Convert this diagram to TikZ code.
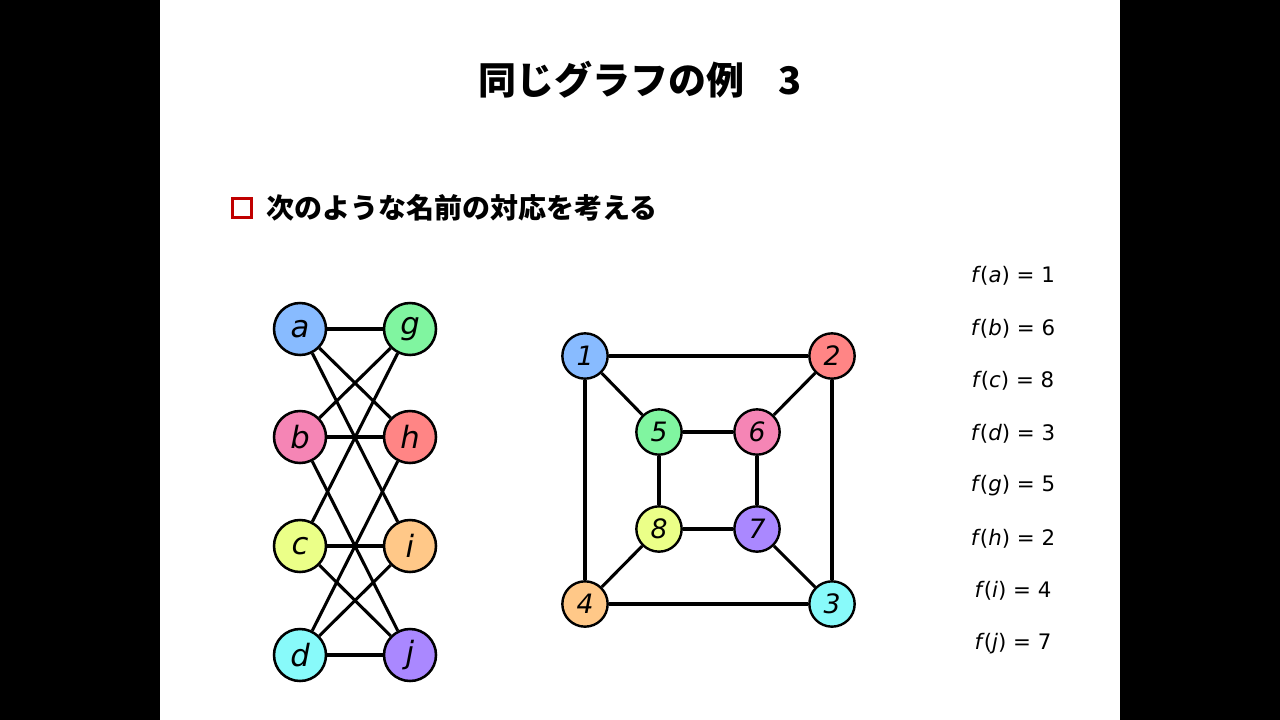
\documentclass[tikz,border=0pt]{standalone}
\usepackage{fontspec}
\newfontfamily\jp{Noto Sans CJK JP}
\newfontfamily\lab{DejaVu Sans}
\newfontfamily\fl{DejaVu Sans}
\definecolor{cblue}{HTML}{88BBFF}
\definecolor{cgreen}{HTML}{80F5A0}
\definecolor{cpink}{HTML}{F585B5}
\definecolor{cred}{HTML}{FF8585}
\definecolor{cyel}{HTML}{EBFF88}
\definecolor{corange}{HTML}{FFC888}
\definecolor{ccyan}{HTML}{88FAFA}
\definecolor{cpurple}{HTML}{AA88FF}
\definecolor{bulletred}{HTML}{C00000}
\tikzset{
  vbig/.style={circle,draw=black,line width=1.9pt,minimum size=39pt,inner sep=0pt,font=\lab\itshape\fontsize{23}{23}\selectfont},
  vsmall/.style={circle,draw=black,line width=1.8pt,minimum size=34pt,inner sep=0pt,font=\lab\itshape\fontsize{20}{20}\selectfont},
  edge/.style={line width=2.3pt,black},
  fitem/.style={font=\fl\fontsize{16}{16}\selectfont,anchor=center}
}
\newcommand\fx[2]{\textit{f}\kern-0.05em(\textit{#1}) = #2}
\begin{document}
\begin{tikzpicture}[x=0.75pt,y=-0.75pt]
\useasboundingbox (0,0) rectangle (1280,720);
\fill[black] (0,0) rectangle (1280,720);
\fill[white] (160,0) rectangle (1120,720);
\node[font=\jp\bfseries\fontsize{28.5}{28.5}\selectfont] (title) at (640,80) {同じグラフの例\hspace{0.9em}3};
\node[draw=bulletred,line width=2.4pt,minimum size=14pt,inner sep=0pt] (bul) at (242,208) {};
\node[font=\jp\bfseries\fontsize{21}{21}\selectfont,anchor=west] (btext) at (262,208) {次のような名前の対応を考える};
% left graph
\node[vbig,fill=cblue] (a) at (300,329) {a};
\node[vbig,fill=cgreen] (g) at (410,329) {g};
\node[vbig,fill=cpink] (b) at (300,437) {b};
\node[vbig,fill=cred] (h) at (410,437) {h};
\node[vbig,fill=cyel] (c) at (300,546) {c};
\node[vbig,fill=corange] (i) at (410,546) {i};
\node[vbig,fill=ccyan] (d) at (300,655) {d};
\node[vbig,fill=cpurple] (j) at (410,655) {j};
% right graph
\node[vsmall,fill=cblue] (n1) at (585,356) {1};
\node[vsmall,fill=cred] (n2) at (832,356) {2};
\node[vsmall,fill=cgreen] (n5) at (659,432) {5};
\node[vsmall,fill=cpink] (n6) at (757,432) {6};
\node[vsmall,fill=cyel] (n8) at (659,529) {8};
\node[vsmall,fill=cpurple] (n7) at (757,529) {7};
\node[vsmall,fill=corange] (n4) at (585,604) {4};
\node[vsmall,fill=ccyan] (n3) at (832,604) {3};
% edges
\foreach \u/\v in {a/g,a/h,a/i,b/g,b/h,b/j,c/g,c/i,c/j,d/h,d/i,d/j,
  n1/n2,n1/n4,n1/n5,n2/n3,n2/n6,n3/n4,n3/n7,n4/n8,n5/n6,n5/n8,n6/n7,n7/n8}
  \draw[edge] (\u) -- (\v);
% function list
\node[fitem] (f1) at (1013,276) {\fx{a}{1}};
\node[fitem] (f2) at (1013,329) {\fx{b}{6}};
\node[fitem] (f3) at (1013,381) {\fx{c}{8}};
\node[fitem] (f4) at (1013,434) {\fx{d}{3}};
\node[fitem] (f5) at (1013,486) {\fx{g}{5}};
\node[fitem] (f6) at (1013,539) {\fx{h}{2}};
\node[fitem] (f7) at (1013,591) {\fx{i}{4}};
\node[fitem] (f8) at (1013,644) {\fx{j}{7}};
\end{tikzpicture}
\end{document}
